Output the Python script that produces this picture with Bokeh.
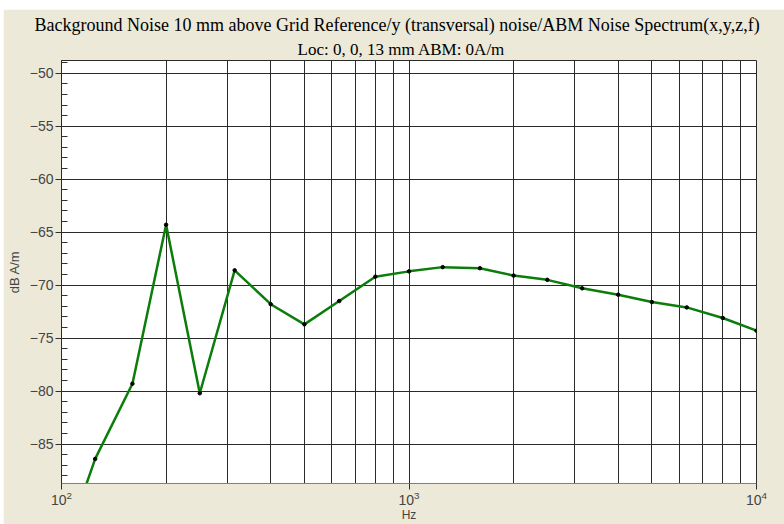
from bokeh.plotting import figure
from bokeh.models import Range1d, FixedTicker, Title, Spacer
from bokeh.layouts import column, row
from bokeh.embed import file_html
from bokeh.resources import INLINE

# ---- data ----
freq_hz = [100, 125, 160, 200, 250, 315, 400, 500, 630, 800, 1000, 1250,
           1600, 2000, 2500, 3150, 4000, 5000, 6300, 8000, 10000]
noise_db = [-95.5, -86.4, -79.3, -64.3, -80.2, -68.6, -71.8, -73.7, -71.5,
            -69.2, -68.7, -68.3, -68.4, -69.1, -69.5, -70.3, -70.9, -71.6,
            -72.1, -73.1, -74.3]

x_major_ticks = [100, 1000, 10000]
x_minor_ticks = [200, 300, 400, 500, 600, 700, 800, 900,
                 2000, 3000, 4000, 5000, 6000, 7000, 8000, 9000]
y_major_ticks = [-85, -80, -75, -70, -65, -60, -55, -50]
y_minor_ticks = [-88, -87, -86, -84, -83, -82, -81, -79, -78, -77, -76,
                 -74, -73, -72, -71, -69, -68, -67, -66, -64, -63, -62, -61,
                 -59, -58, -57, -56, -54, -53, -52, -51, -49]

title_line1 = "Background Noise 10 mm above Grid Reference/y (transversal) noise/ABM Noise Spectrum(x,y,z,f)"
title_line2 = "Loc: 0, 0, 13 mm ABM: 0A/m"
x_label = "Hz"
y_label = "dB A/m"

BEIGE = "#ECE9D8"
GRID = "#2a2a2a"
Y_LO, Y_HI = -88.72, -48.8

p = figure(width=781, height=515, x_axis_type="log",
           x_range=Range1d(100, 10000), y_range=Range1d(Y_LO, Y_HI),
           output_backend="svg", toolbar_location=None, title=None,
           min_border_left=50, min_border_right=28,
           min_border_top=51, min_border_bottom=39)

p.border_fill_color = BEIGE
p.background_fill_color = "white"
p.outline_line_color = GRID
p.outline_line_width = 1

# titles (last added is outermost)
p.add_layout(Title(text=title_line2, align="left", text_font="Liberation Serif",
                   text_font_size="17px", text_font_style="normal",
                   text_color="black", standoff=3, offset=236), "above")
p.add_layout(Title(text=title_line1, align="left", text_font="Liberation Serif",
                   text_font_size="18px", text_font_style="normal",
                   text_color="black", standoff=4, offset=-27), "above")

# x axis
xt = FixedTicker(ticks=x_major_ticks, minor_ticks=x_minor_ticks)
p.xaxis.ticker = xt
p.xaxis.axis_label = x_label
p.xaxis.axis_label_text_font = "Liberation Sans"
p.xaxis.axis_label_text_font_size = "12px"
p.xaxis.axis_label_text_font_style = "normal"
p.xaxis.axis_label_standoff = 0
p.xaxis.major_label_text_font = "Liberation Sans"
p.xaxis.major_label_text_font_size = "14px"
p.xaxis.major_label_standoff = 1
p.xaxis.major_tick_out = 6
p.xaxis.major_tick_in = 0
p.xaxis.minor_tick_line_color = None
p.xaxis.axis_line_color = "#808080"
p.xaxis.major_tick_line_color = "#303030"

# y axis
yt = FixedTicker(ticks=y_major_ticks, minor_ticks=y_minor_ticks)
p.yaxis.ticker = yt
p.yaxis.axis_label = y_label
p.yaxis.axis_label_text_font = "Liberation Sans"
p.yaxis.axis_label_text_font_size = "13px"
p.yaxis.axis_label_text_font_style = "normal"
p.yaxis.axis_label_standoff = 5
p.yaxis.major_label_text_font = "Liberation Sans"
p.yaxis.major_label_text_font_size = "14px"
p.yaxis.major_label_standoff = 2
p.yaxis.major_tick_out = 6
p.yaxis.major_tick_in = 0
p.yaxis.minor_tick_in = 6
p.yaxis.minor_tick_out = 0
p.yaxis.axis_line_color = GRID
p.yaxis.major_tick_line_color = "#303030"
p.yaxis.minor_tick_line_color = "#303030"

# grids
p.xgrid.grid_line_color = GRID
p.xgrid.minor_grid_line_color = GRID
p.ygrid.grid_line_color = GRID
p.ygrid.minor_grid_line_color = None

p.line(freq_hz, noise_db, line_color="#0a7d0a", line_width=2.5)
p.scatter(freq_hz, noise_db, size=3.5, color="black")

page = column(Spacer(height=9, width=784), row(Spacer(width=3, height=515), p))

open("out.html", "w").write(file_html(page, INLINE))
